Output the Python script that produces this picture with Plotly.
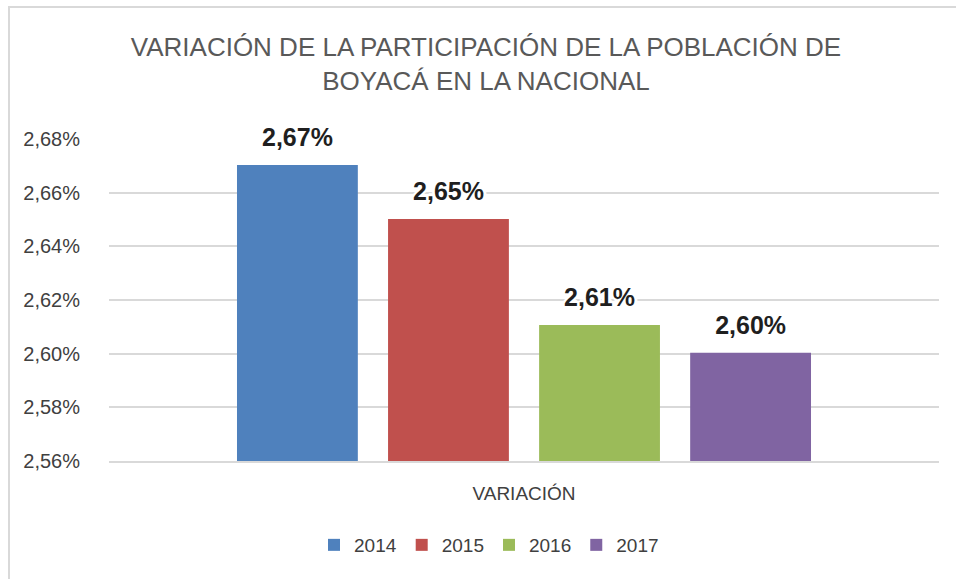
import plotly.graph_objects as go

# ---- data ----
category = ["VARIACIÓN"]
years = ["2014", "2015", "2016", "2017"]
values = [2.6703, 2.6502, 2.6107, 2.6003]   # % share of national population
colors = ["#4f81bd", "#c0504d", "#9bbb59", "#8064a2"]
y_ticks = [2.56, 2.58, 2.60, 2.62, 2.64, 2.66, 2.68]
y_ticktext = [f"{v:.2f}%".replace(".", ",") for v in y_ticks]
title_text = "VARIACIÓN DE LA PARTICIPACIÓN DE LA POBLACIÓN DE<br>BOYACÁ EN LA NACIONAL"

W, H = 956, 579
L, R, T, B = 109, 17, 139, 118

fig = go.Figure()
for yr, v, c in zip(years, values, colors):
    fig.add_trace(go.Bar(
        name=yr, x=category, y=[v], marker=dict(color=c, line=dict(width=0)),
        texttemplate="<span style='font-size:25px'><b>%{y:.2f}%</b></span><br>\u00a0",
        textposition="outside", cliponaxis=False,
        textfont=dict(family="Liberation Sans, Arial, sans-serif", size=11, color="#1f1f1f",
                      shadow="3px 0 0 white, -3px 0 0 white, 0 3px 0 white, 0 -3px 0 white"),
        hoverinfo="skip",
    ))

# chart border (Excel chart area frame)
pw, ph = W - L - R, H - T - B
fig.add_shape(type="rect", xref="paper", yref="paper",
              x0=(9 - L) / pw, x1=(W + 5 - L) / pw,
              y0=(H - B - (H + 5)) / ph, y1=(H - B - 7) / ph,
              line=dict(color="#d9d9d9", width=2), fillcolor="rgba(0,0,0,0)", layer="below")

fig.update_layout(
    width=W, height=H,
    margin=dict(l=L, r=R, t=T, b=B, autoexpand=False),
    paper_bgcolor="white", plot_bgcolor="white",
    separators=",.",
    barmode="group", bargap=0.272, bargroupgap=0.2,
    font=dict(family="Liberation Sans, Arial, sans-serif", color="#404040"),
    title=dict(text=title_text, x=(486 - L) / pw, xref="paper", xanchor="center",
               y=1 - 56 / H, yref="container", yanchor="top",
               font=dict(size=26, color="#595959")),
    showlegend=True,
    legend=dict(orientation="h", x=(489 - L) / pw, xanchor="center",
                y=(H - B - 545) / ph, yanchor="middle",
                font=dict(size=19, color="#404040"), itemwidth=30,
                traceorder="normal"),
    xaxis=dict(showgrid=False, showline=True, linecolor="#d9d9d9", linewidth=1.5,
               ticks="outside", ticklen=14, tickcolor="rgba(0,0,0,0)",
               tickfont=dict(size=19, color="#404040"), fixedrange=True),
    yaxis=dict(range=[2.56, 2.68], tickmode="array", tickvals=y_ticks, ticktext=y_ticktext,
               showgrid=True, gridcolor="#d9d9d9", gridwidth=1.5, zeroline=False,
               ticks="outside", ticklen=24, tickcolor="rgba(0,0,0,0)",
               tickfont=dict(size=20, color="#404040"), fixedrange=True),
)

fig.write_html("out.html", config={"displayModeBar": False},
               post_script="document.body.style.margin='0';")
